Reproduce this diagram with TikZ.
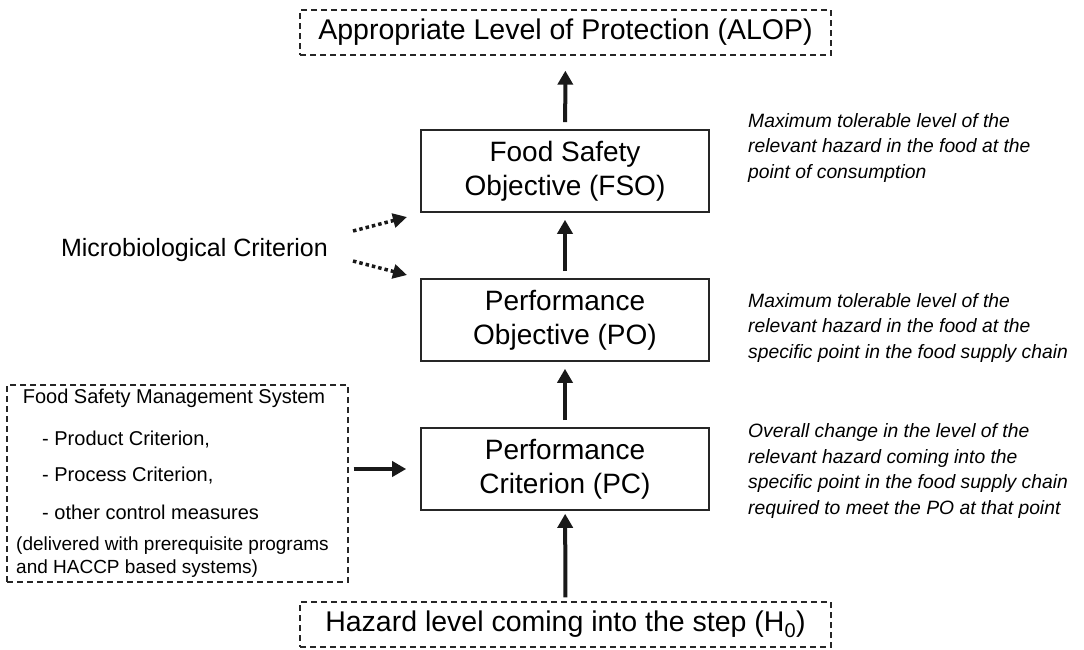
\documentclass[tikz,border=0pt]{standalone}
\usepackage{fontspec}
\setmainfont{Liberation Sans}
\usetikzlibrary{arrows.meta}
\tikzset{
  bigtxt/.style={font=\fontsize{28}{34}\selectfont},
  toptxt/.style={font=\fontsize{28.5}{34}\selectfont},
  smalltxt/.style={font=\fontsize{20}{26}\selectfont},
  notetxt/.style={font=\fontsize{19}{24}\selectfont},
  desc/.style={font=\fontsize{19.3}{25.8}\selectfont\itshape, align=left, anchor=west, inner sep=0pt},
  solidbox/.style={draw=black!85, line width=1.6pt, minimum width=288pt, minimum height=82pt, align=center, bigtxt, inner sep=0pt},
  dashbox/.style={draw=black!85, line width=1.3pt, dash pattern=on 6pt off 4pt, inner sep=0pt},
  bigarrow/.style={draw=black!90, line width=4pt, -{Triangle[length=14pt,width=15pt]}},
  dotarrow/.style={draw=black!90, line width=3.5pt, dash pattern=on 3.5pt off 3pt, -{Triangle[length=14pt,width=14pt]}},
}
\begin{document}
\begin{tikzpicture}[x=1pt,y=-1pt]
\useasboundingbox (0,0) rectangle (1084,649);
% top and bottom dashed boxes
\node[dashbox, minimum width=531pt, minimum height=45pt, toptxt] (alop) at (565.5,32.5) {Appropriate Level of Protection (ALOP)};
\node[dashbox, minimum width=531pt, minimum height=45pt, toptxt] (h0) at (565.5,624.5) {Hazard level coming into the step (H\textsubscript{0})};
% main boxes
\node[solidbox] (fso) at (565,171) {Food Safety\\Objective (FSO)};
\node[solidbox] (po) at (565,320) {Performance\\Objective (PO)};
\node[solidbox] (pc) at (565,469) {Performance\\Criterion (PC)};
% descriptions
\node[desc] (dfso) at (748,148) {Maximum tolerable level of the\\relevant hazard in the food at the\\point of consumption};
\node[desc] (dpo) at (748,328) {Maximum tolerable level of the\\relevant hazard in the food at the\\specific point in the food supply chain};
\node[desc] (dpc) at (748,471) {Overall change in the level of the\\relevant hazard coming into the\\specific point in the food supply chain\\required to meet the PO at that point};
% microbiological criterion
\node[font=\fontsize{25}{30}\selectfont, anchor=east, inner sep=0pt] (mc) at (328,250) {Microbiological Criterion};
\coordinate (m1s) at (353,231);
\coordinate (m1e) at (407,217);
\coordinate (m2s) at (353,261);
\coordinate (m2e) at (407,275);
\draw[dotarrow] (m1s) -- (m1e);
\draw[dotarrow] (m2s) -- (m2e);
% FSMS box
\node[dashbox, minimum width=341pt, minimum height=197pt] (fsms) at (177.5,483.5) {};
\node[smalltxt, inner sep=0pt] (t1) at (174,398) {Food Safety Management System};
\node[smalltxt, inner sep=0pt, anchor=west] (t2) at (42,440) {- Product Criterion,};
\node[smalltxt, inner sep=0pt, anchor=west] (t3) at (42,476) {- Process Criterion,};
\node[smalltxt, inner sep=0pt, anchor=west] (t4) at (42,512) {- other control measures};
\node[notetxt, inner sep=0pt, anchor=west] (t5) at (16,546) {(delivered with prerequisite programs};
\node[notetxt, inner sep=0pt, anchor=west] (t6) at (16,569) {and HACCP based systems)};
% arrows
\draw[bigarrow, shorten <=7pt, shorten >=15pt] (fso) -- (alop);
\draw[bigarrow, shorten <=7pt, shorten >=7pt] (po) -- (fso);
\draw[bigarrow, shorten <=7pt, shorten >=7pt] (pc) -- (po);
\draw[bigarrow, shorten <=4pt, shorten >=3pt] (h0) -- (pc);
\draw[bigarrow, shorten <=5pt, shorten >=14pt] (fsms.east |- pc) -- (pc);
\end{tikzpicture}
\end{document}
